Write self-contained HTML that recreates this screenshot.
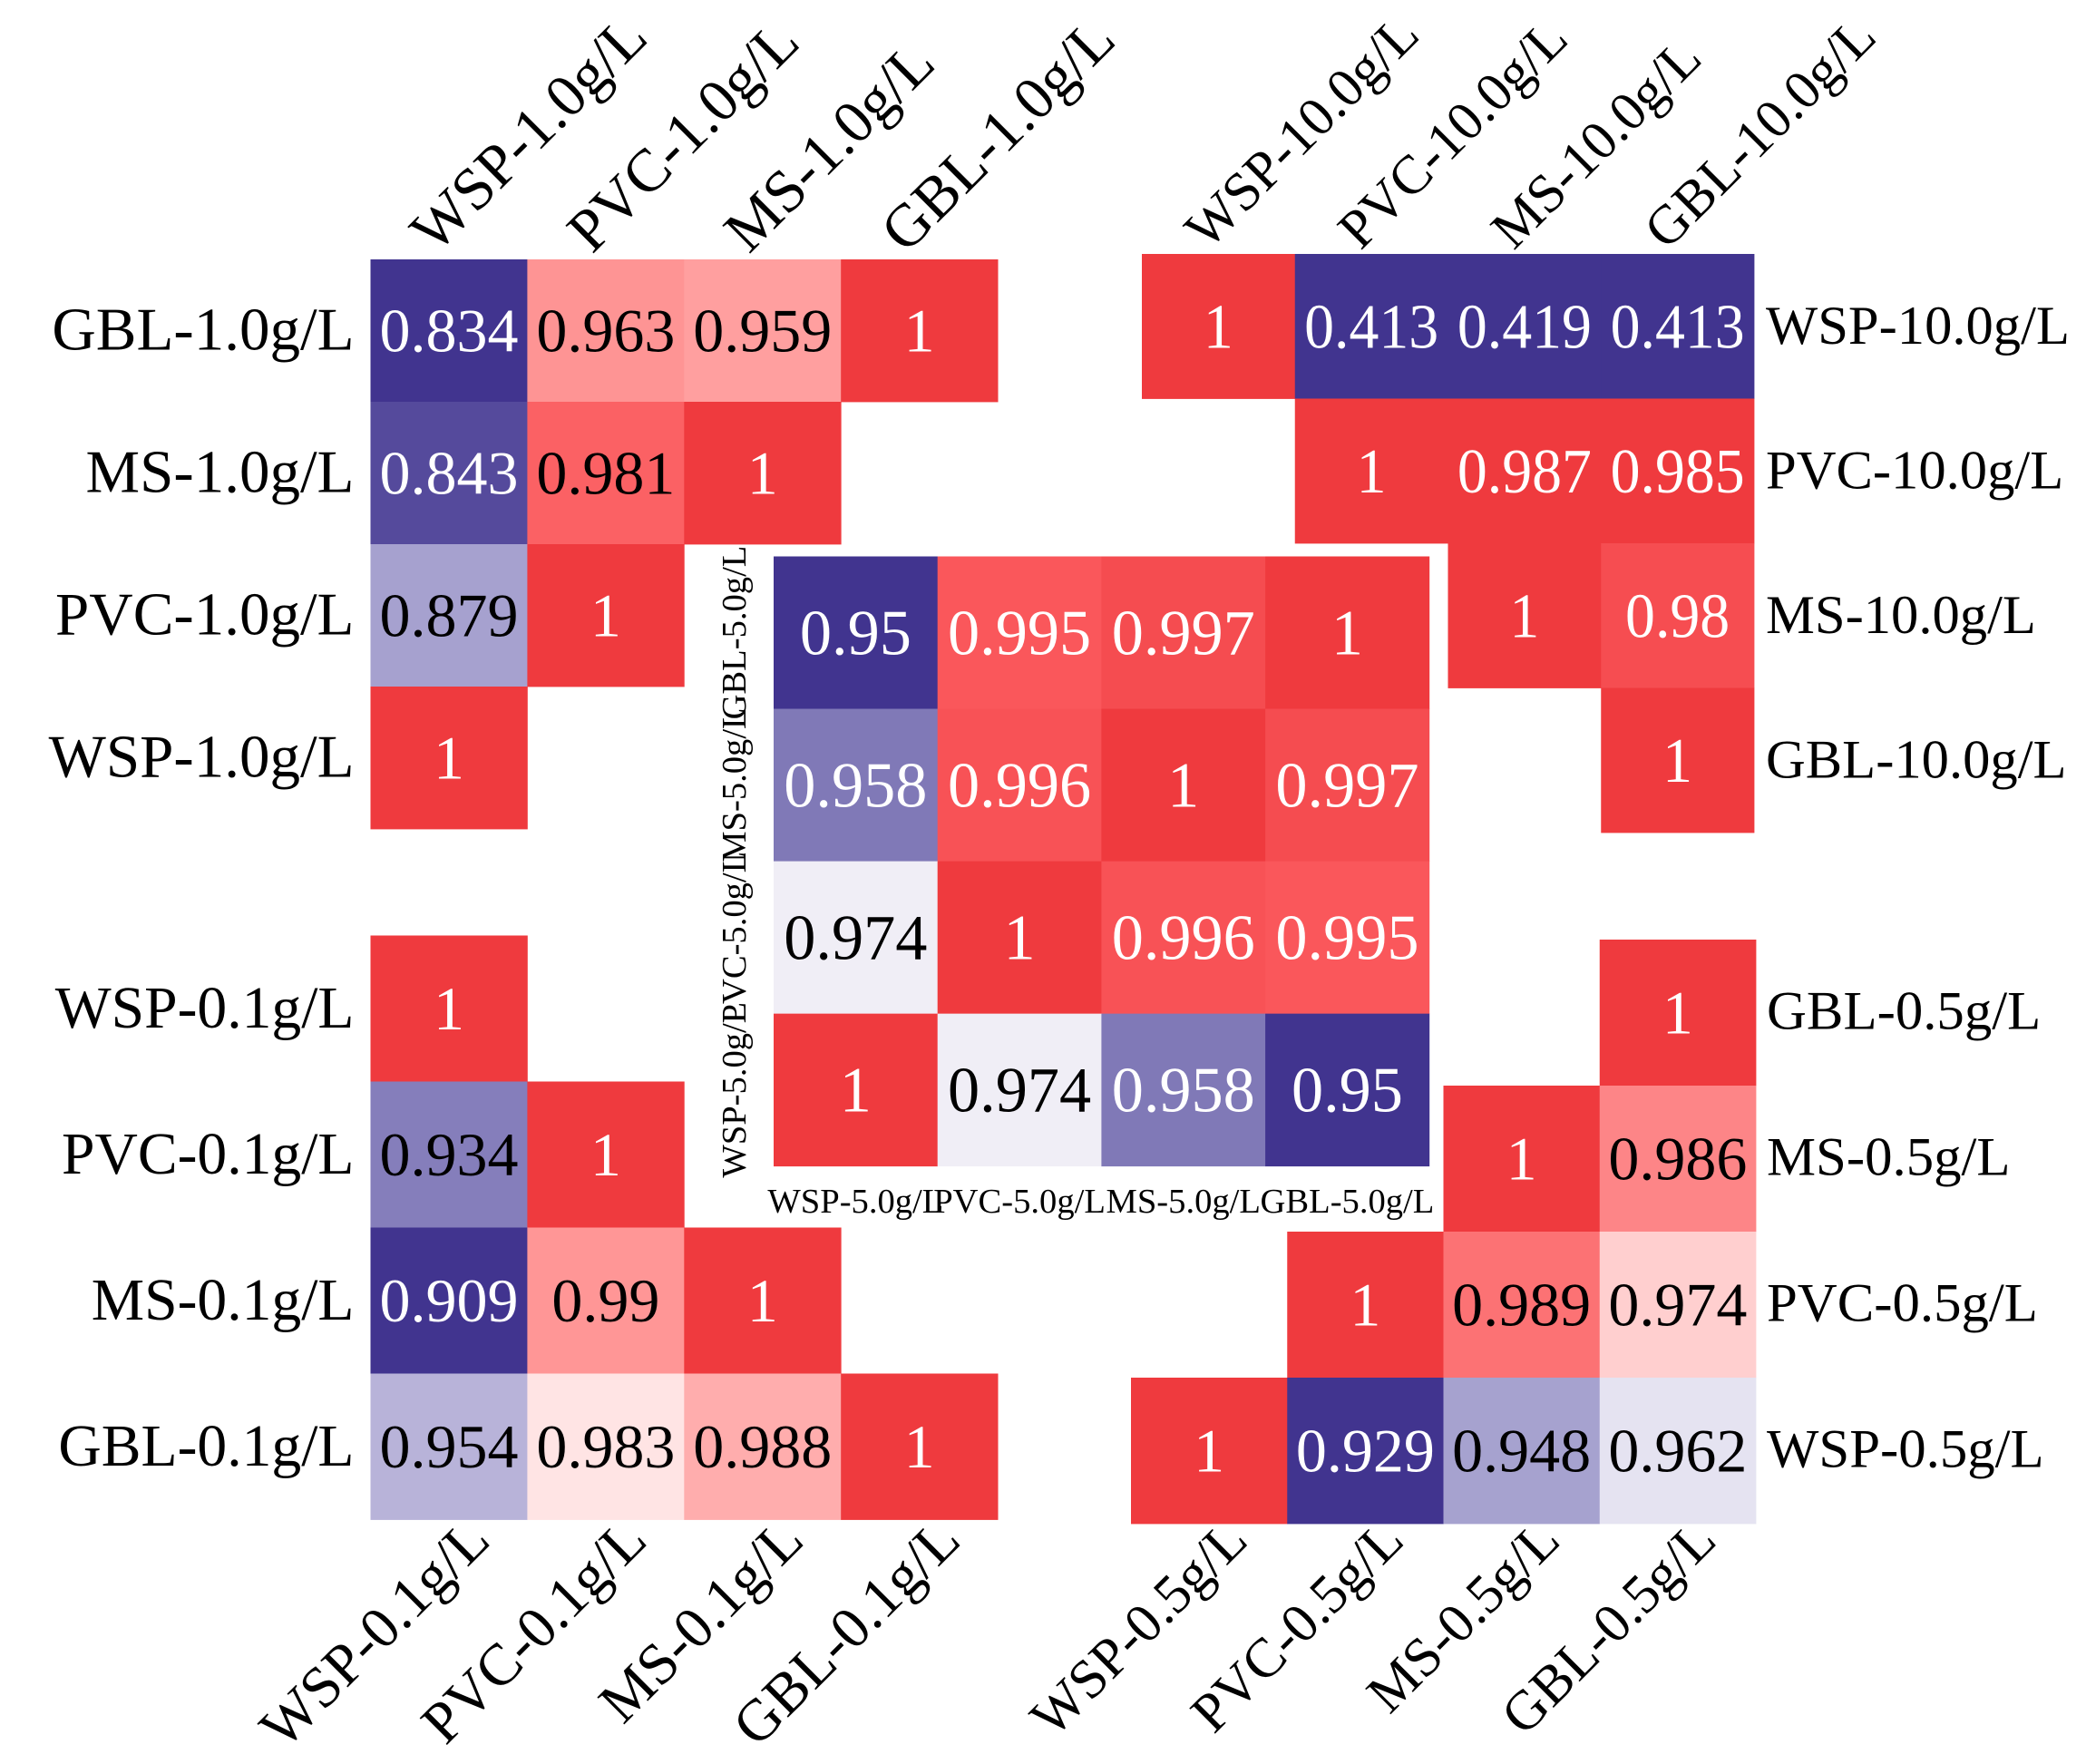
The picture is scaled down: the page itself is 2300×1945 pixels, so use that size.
<!DOCTYPE html>
<html>
<head>
<meta charset="utf-8">
<title>Correlation heatmaps</title>
<style>
html,body{margin:0;padding:0;background:#fff;}
svg{display:block;font-family:"Liberation Serif",serif;}
</style>
</head>
<body>
<svg id="chart" xmlns="http://www.w3.org/2000/svg" width="2300" height="1945" viewBox="0 0 2300 1945"></svg>
<script>
// ---- data ----
var labels01 = ["WSP-0.1g/L", "PVC-0.1g/L", "MS-0.1g/L", "GBL-0.1g/L"];
var labels05 = ["WSP-0.5g/L", "PVC-0.5g/L", "MS-0.5g/L", "GBL-0.5g/L"];
var labels10 = ["WSP-1.0g/L", "PVC-1.0g/L", "MS-1.0g/L", "GBL-1.0g/L"];
var labels50 = ["WSP-5.0g/L", "PVC-5.0g/L", "MS-5.0g/L", "GBL-5.0g/L"];
var labels100 = ["WSP-10.0g/L", "PVC-10.0g/L", "MS-10.0g/L", "GBL-10.0g/L"];

var rows10 = ["GBL-1.0g/L", "MS-1.0g/L", "PVC-1.0g/L", "WSP-1.0g/L"];
var rows100 = ["WSP-10.0g/L", "PVC-10.0g/L", "MS-10.0g/L", "GBL-10.0g/L"];
var rows01 = ["WSP-0.1g/L", "PVC-0.1g/L", "MS-0.1g/L", "GBL-0.1g/L"];
var rows05 = ["GBL-0.5g/L", "MS-0.5g/L", "PVC-0.5g/L", "WSP-0.5g/L"];
var rows50 = ["GBL-5.0g/L", "MS-5.0g/L", "PVC-5.0g/L", "WSP-5.0g/L"];

var values10 = [
  [0.834, 0.963, 0.959, 1],
  [0.843, 0.981, 1, null],
  [0.879, 1, null, null],
  [1, null, null, null]
];
var values100 = [
  [1, 0.413, 0.419, 0.413],
  [null, 1, 0.987, 0.985],
  [null, null, 1, 0.98],
  [null, null, null, 1]
];
var values01 = [
  [1, null, null, null],
  [0.934, 1, null, null],
  [0.909, 0.99, 1, null],
  [0.954, 0.983, 0.988, 1]
];
var values05 = [
  [null, null, null, 1],
  [null, null, 1, 0.986],
  [null, 1, 0.989, 0.974],
  [1, 0.929, 0.948, 0.962]
];
var values50 = [
  [0.95, 0.995, 0.997, 1],
  [0.958, 0.996, 1, 0.997],
  [0.974, 1, 0.996, 0.995],
  [1, 0.974, 0.958, 0.95]
];

// ---- layout ----
var SVG_NS = "http://www.w3.org/2000/svg";
var svg = document.getElementById("chart");

var panels = [
  { id: "panel-1g", cols: labels10, rows: rows10, values: values10, vmin: 0.834, vcenter: 0.92, vmax: 1,
    x: 408.5, y: 286, cw: 172.9, ch: 157, cellFont: 68, cellScale: 1.0,
    rowSide: "left", rowX: 390.5, rowFont: 67, rowDy: 21,
    colSide: "top", colDx: -15, colY: 281, colFont: 66.6 },
  { id: "panel-10g", cols: labels100, rows: rows100, values: values100, vmin: 0.42, vcenter: 0.945, vmax: 0.985,
    x: 1259, y: 280, cw: 168.75, ch: 159.5, cellFont: 70, cellScale: 0.94,
    rowSide: "right", rowX: 1947, rowFont: 60.6, rowDy: 19,
    colSide: "top", colDx: -12, colY: 277, colFont: 60.4 },
  { id: "panel-0-1g", cols: labels01, rows: rows01, values: values01, vmin: 0.909, vcenter: 0.98, vmax: 0.999,
    x: 408.5, y: 1031.5, cw: 172.9, ch: 161, cellFont: 68, cellScale: 1.0,
    rowSide: "left", rowX: 390.5, rowFont: 65.6, rowDy: 21,
    colSide: "bottom", colDx: 48, colY: 1701, colFont: 64.6 },
  { id: "panel-0-5g", cols: labels05, rows: rows05, values: values05, vmin: 0.929, vcenter: 0.965, vmax: 1,
    x: 1247, y: 1036, cw: 172.25, ch: 161, cellFont: 68, cellScale: 1.0,
    rowSide: "right", rowX: 1948, rowFont: 60.8, rowDy: 18,
    colSide: "bottom", colDx: 45, colY: 1701, colFont: 61 },
  { id: "panel-5g", cols: labels50, rows: rows50, values: values50, vmin: 0.95, vcenter: 0.9745, vmax: 1,
    x: 853, y: 613.5, cw: 180.7, ch: 168.05, cellFont: 71, cellScale: 0.99,
    rowSide: "inner", rowX: 822, rowFont: 38.6, rowDy: 0,
    colSide: "inner", colDx: 0, colY: 1337, colFont: 38.6 }
];

// ---- colour map ----
var cmapStops = [
  [0.00, [65, 52, 143]],
  [0.25, [162, 157, 205]],
  [0.50, [243, 241, 248]],
  [0.55, [255, 240, 240]],
  [0.75, [255, 156, 156]],
  [0.90, [250, 88, 92]],
  [1.00, [239, 58, 62]]
];

function normalize(p, v) {
  var n;
  if (v < p.vcenter) {
    n = 0.5 * (v - p.vmin) / (p.vcenter - p.vmin);
  } else {
    n = 0.5 + 0.5 * (v - p.vcenter) / (p.vmax - p.vcenter);
  }
  return Math.max(0, Math.min(1, n));
}

function colorFor(n) {
  for (var i = 1; i < cmapStops.length; i++) {
    if (n <= cmapStops[i][0]) {
      var a = cmapStops[i - 1], b = cmapStops[i];
      var t = (n - a[0]) / (b[0] - a[0]);
      return "rgb(" + [0, 1, 2].map(function (k) {
        return Math.round(a[1][k] + (b[1][k] - a[1][k]) * t);
      }).join(",") + ")";
    }
  }
  return "rgb(239,58,62)";
}

function textColorFor(n) {
  return (n < 0.17 || n > 0.895) ? "#ffffff" : "#000000";
}

function xScale(p, i) { return p.x + i * p.cw; }
function yScale(p, j) { return p.y + j * p.ch; }

function makeText(str, size, fill, anchor, transform) {
  var t = document.createElementNS(SVG_NS, "text");
  t.textContent = str;
  t.setAttribute("font-size", size);
  t.setAttribute("fill", fill);
  t.setAttribute("text-anchor", anchor);
  t.setAttribute("transform", transform);
  return t;
}

panels.forEach(function (p) {
  var g = document.createElementNS(SVG_NS, "g");
  
  
  svg.appendChild(g);

  // cells
  p.values.forEach(function (row, j) {
    row.forEach(function (v, i) {
      if (v === null) return;
      var n = normalize(p, v);
      var r = document.createElementNS(SVG_NS, "rect");
      r.setAttribute("x", xScale(p, i));
      r.setAttribute("y", yScale(p, j));
      r.setAttribute("width", p.cw + 0.4);
      r.setAttribute("height", p.ch + 0.4);
      r.setAttribute("fill", colorFor(n));
      
      
      g.appendChild(r);
    });
  });

  // printed values
  p.values.forEach(function (row, j) {
    row.forEach(function (v, i) {
      if (v === null) return;
      var n = normalize(p, v);
      var cx = xScale(p, i) + p.cw / 2;
      var cy = yScale(p, j) + p.ch / 2 + 0.338 * p.cellFont;
      var t = makeText(String(v), p.cellFont, textColorFor(n), "middle",
        "translate(" + cx + " " + cy + ") scale(" + p.cellScale + " 1)");
      
      
      g.appendChild(t);
    });
  });

  // row labels
  p.rows.forEach(function (label, j) {
    var cy = yScale(p, j) + p.ch / 2;
    var tr, anchor;
    if (p.rowSide === "left") {
      anchor = "end";
      tr = "translate(" + p.rowX + " " + (cy + p.rowDy) + ")";
    } else if (p.rowSide === "right") {
      anchor = "start";
      tr = "translate(" + p.rowX + " " + (cy + p.rowDy) + ")";
    } else {
      anchor = "middle";
      tr = "translate(" + p.rowX + " " + cy + ") rotate(-90)";
    }
    var t = makeText(label, p.rowFont, "#000000", anchor, tr);
    
    
    g.appendChild(t);
  });

  // column labels
  p.cols.forEach(function (label, i) {
    var cx = xScale(p, i) + p.cw / 2 + p.colDx;
    var tr, anchor;
    if (p.colSide === "top") {
      anchor = "start";
      tr = "translate(" + cx + " " + p.colY + ") rotate(-45)";
    } else if (p.colSide === "bottom") {
      anchor = "end";
      tr = "translate(" + cx + " " + p.colY + ") rotate(-45)";
    } else {
      anchor = "middle";
      tr = "translate(" + cx + " " + p.colY + ")";
    }
    var t = makeText(label, p.colFont, "#000000", anchor, tr);
    
    
    g.appendChild(t);
  });
});
</script>
</body>
</html>
